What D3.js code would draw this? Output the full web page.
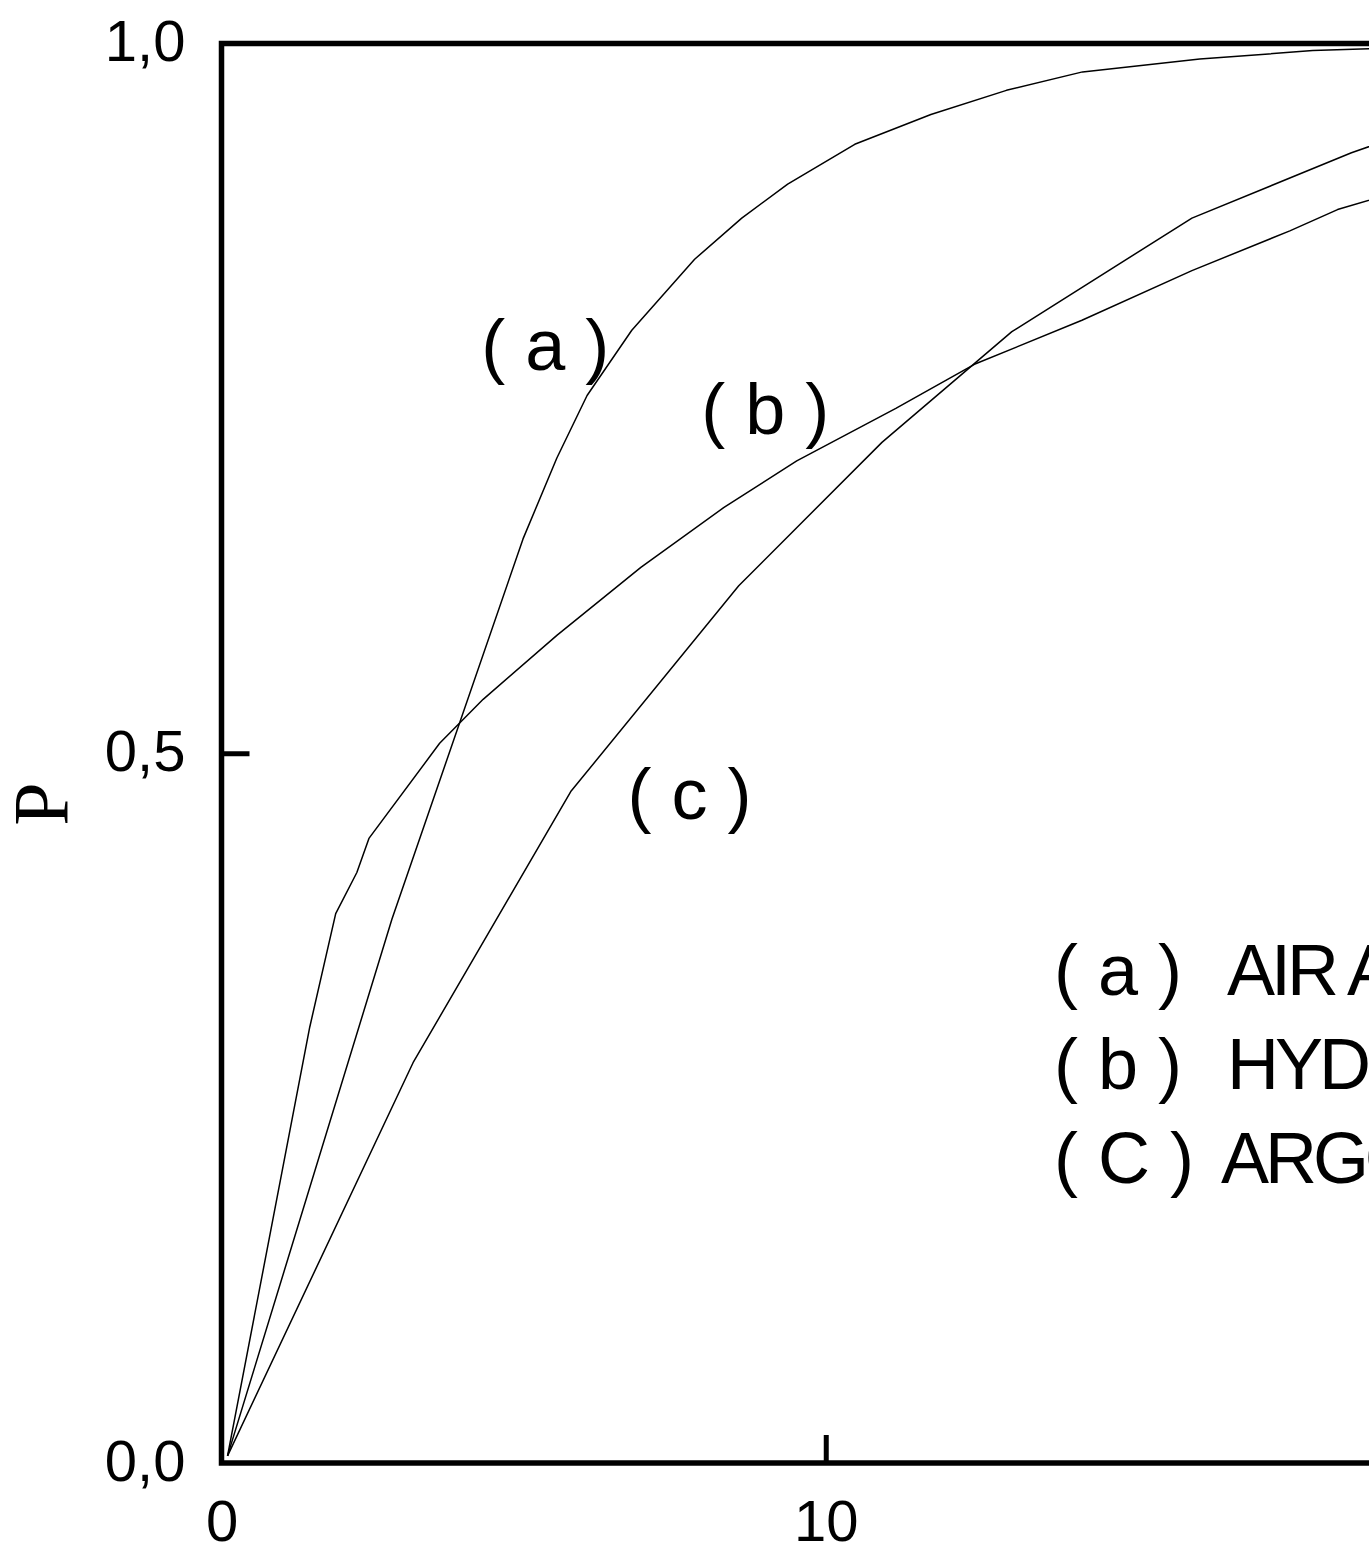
<!DOCTYPE html>
<html>
<head>
<meta charset="utf-8">
<script src="https://cdn.jsdelivr.net/npm/d3@7"></script>
<style>
  html, body { margin: 0; padding: 0; background: #fff; overflow: hidden; }
  text { font-family: "Liberation Sans", Arial, sans-serif; fill: #000; }
</style>
</head>
<body>
<div id="d3-container"></div>
<script>
// values
var airX = [0.1, 2.82, 4.99, 5.55, 6.05, 6.79, 7.83, 8.61, 9.37, 10.48, 11.74, 12.99, 14.25, 16.19, 18.06, 19.5]
var airP = [0.005, 0.383, 0.651, 0.708, 0.752, 0.798, 0.848, 0.877, 0.901, 0.929, 0.950, 0.967, 0.980, 0.989, 0.995, 0.997]

var hydX = [0.1, 1.46, 1.89, 2.24, 2.44, 3.61, 4.33, 5.55, 6.94, 8.31, 9.52, 11.16, 12.46, 14.24, 16.06, 17.68, 18.47, 19.5]
var hydP = [0.005, 0.307, 0.387, 0.416, 0.440, 0.507, 0.538, 0.583, 0.631, 0.673, 0.706, 0.743, 0.774, 0.805, 0.840, 0.868, 0.883, 0.896]

var argX = [0.1, 3.17, 5.78, 8.56, 10.93, 13.08, 16.06, 18.70, 19.5]
var argP = [0.005, 0.282, 0.473, 0.618, 0.719, 0.797, 0.877, 0.923, 0.935]

var xTicks = [0, 10]
var yTicks = [0, 0.5, 1]
var yTickLabels = ["0,0", "0,5", "1,0"]

var curveNames = ["( a )", "( b )", "( c )"]
var legendKeys = ["( a )", "( b )", "( C )"]
var legendNames = ["AIR ATMOSPHERE", "HYDROGEN", "ARGON"]

var width = 1500
var height = 1549

margin = {top: 43.5, left: 221.5, bottom: 86, right: 70}
chartWidth = width - (margin.left + margin.right)
chartHeight = height - (margin.top + margin.bottom)

var svg = d3.select("#d3-container")
  .append("svg")
  .attr("width", width)
  .attr("height", height)
  .append("g")
  .attr("transform", "translate(" + [margin.left, margin.top] + ")")

var x = d3.scaleLinear().domain([0, 20]).range([0, chartWidth])
var y = d3.scaleLinear().domain([0, 1]).range([chartHeight, 0])

function zipSeries(xs, ys) {
    return xs.map(function(d, i) { return [d, ys[i]] })
}

var series = [zipSeries(airX, airP), zipSeries(hydX, hydP), zipSeries(argX, argP)]

var line = d3.line()
    .x(function(d) { return x(d[0]) })
    .y(function(d) { return y(d[1]) })

svg.append("g")
    .attr("class", "curves")
    .selectAll("path")
    .data(series)
    .enter().append("path")
    .attr("d", line)
    .attr("fill", "none")
    .attr("stroke", "black")
    .attr("stroke-width", 1.5)
    .attr("stroke-linejoin", "round")

// frame, right side runs off the page like in the scan
svg.append("rect")
    .attr("x", 0)
    .attr("y", 0)
    .attr("width", x(20))
    .attr("height", chartHeight)
    .attr("fill", "none")
    .attr("stroke", "black")
    .attr("stroke-width", 5.5)

// ticks point inward
var xAxis = d3.axisBottom(x).tickValues(xTicks).tickSize(-28).tickFormat(d3.format("d"))
var gx = svg.append("g")
    .attr("transform", "translate(0," + chartHeight + ")")
    .call(xAxis)
gx.select(".domain").remove()
gx.selectAll("line").attr("stroke", "black").attr("stroke-width", 5)
gx.selectAll("line").filter(function(d) { return d == 0 }).remove()
gx.selectAll("text")
    .attr("y", 78)
    .attr("dy", null)
    .style("font-size", "58px")
    .style("font-family", "Liberation Sans, Arial, sans-serif")

var yAxis = d3.axisLeft(y).tickValues(yTicks).tickSize(-28)
    .tickFormat(function(d, i) { return yTickLabels[i] })
var gy = svg.append("g").call(yAxis)
gy.select(".domain").remove()
gy.selectAll("line").attr("stroke", "black").attr("stroke-width", 5)
gy.selectAll("line").filter(function(d) { return d == 0 || d == 1 }).remove()
gy.selectAll("text")
    .attr("x", -36)
    .attr("dy", 17)
    .style("font-size", "58px")
    .style("font-family", "Liberation Sans, Arial, sans-serif")

// axis title
svg.append("text")
    .attr("transform", "translate(" + (67 - margin.left) + "," + (804 - margin.top) + ") rotate(-90)")
    .attr("text-anchor", "middle")
    .style("font-family", "Liberation Serif, Times New Roman, serif")
    .style("font-size", "78px")
    .text("P")

// curve labels placed next to each curve
var labelPos = [[4.3, 0.77], [7.94, 0.725], [6.72, 0.454]]
svg.selectAll(".curve-label")
    .data(curveNames)
    .enter().append("text")
    .attr("class", "curve-label")
    .attr("x", function(d, i) { return x(labelPos[i][0]) })
    .attr("y", function(d, i) { return y(labelPos[i][1]) })
    .style("font-size", "72px")
    .style("white-space", "pre")
    .text(function(d) { return d })

// legend
var legend = svg.selectAll(".legend")
    .data(legendKeys)
    .enter().append("g")
    .attr("class", "legend")
    .attr("transform", function(d, i) { return "translate(0," + (995 - margin.top + i * 94) + ")" })

legend.append("text")
    .attr("x", 1054 - margin.left)
    .style("font-size", "72px")
    .style("white-space", "pre")
    .text(function(d) { return d })

legend.append("text")
    .attr("x", function(d, i) { return (i == 2 ? 1221 : 1227) - margin.left })
    .style("font-size", "72px")
    .style("letter-spacing", "-4px")
    .text(function(d, i) { return legendNames[i] })
</script>
</body>
</html>
